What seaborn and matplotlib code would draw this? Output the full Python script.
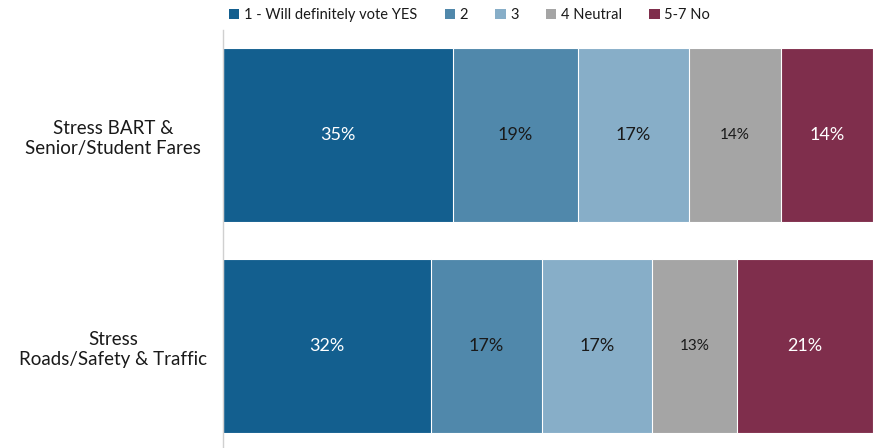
import matplotlib
matplotlib.use("Agg")
import matplotlib.pyplot as plt
import seaborn as sns
import pandas as pd
import numpy as np
from matplotlib.patches import Patch

categories = ["Stress BART &\nSenior/Student Fares", "Stress\nRoads/Safety & Traffic"]
series_names = ["1 - Will definitely vote YES", "2", "3", "4 Neutral", "5-7 No"]
vote_yes = [35, 32]
level_2 = [19, 17]
level_3 = [17, 17]
neutral = [14, 13]
no_votes = [14, 21]

colors = ["#135F8F", "#5088AB", "#87AEC8", "#A5A5A5", "#7F2E4C"]
label_colors = ["white", "#1a1a1a", "#1a1a1a", "#1a1a1a", "white"]
label_sizes = [13, 13, 13, 11, 13]

sns.set_theme(style="white")
plt.rcParams["font.family"] = ["Lato", "DejaVu Sans"]

series = [vote_yes, level_2, level_3, neutral, no_votes]
vals = np.array(series, dtype=float)  # shape (5, 2)
totals = vals.sum(axis=0)
shares = vals / totals * 100
cum = np.cumsum(shares, axis=0)

fig = plt.figure(figsize=(8.73, 4.48), dpi=100)
ax = fig.add_axes([223 / 873, 0, 650 / 873, 418 / 448])

for i in range(len(series) - 1, -1, -1):
    df = pd.DataFrame({"cat": categories, "val": cum[i]})
    sns.barplot(data=df, x="val", y="cat", orient="h", color=colors[i],
                saturation=1, width=0.825, edgecolor="white", linewidth=0.8,
                ax=ax)

for i in range(len(series)):
    for j in range(len(categories)):
        start = cum[i][j] - shares[i][j]
        ax.text(start + shares[i][j] / 2, j, f"{int(series[i][j])}%",
                ha="center", va="center", color=label_colors[i],
                fontsize=label_sizes[i])

ax.set_xlim(0, 100)
ax.set_ylim(1.483, -0.498)
ax.set_xlabel("")
ax.set_ylabel("")
ax.set_xticks([])
ax.tick_params(axis="y", length=0, pad=79, labelsize=13.5, labelcolor="#1a1a1a")
for lab in ax.get_yticklabels():
    lab.set_horizontalalignment("center")
    lab.set_linespacing(1.25)
for s in ["top", "right", "bottom"]:
    ax.spines[s].set_visible(False)
ax.spines["left"].set_color("#D0D0D0")
ax.spines["left"].set_linewidth(1)
if ax.get_legend() is not None:
    ax.get_legend().remove()

handles = [Patch(facecolor=c, edgecolor="none") for c in colors]
leg = fig.legend(handles, series_names, loc="upper left", ncol=5,
                 bbox_to_anchor=(221 / 873, 1.0), frameon=False,
                 fontsize=10.5, handlelength=0.7, handleheight=0.7,
                 handletextpad=0.3, columnspacing=1.9, borderaxespad=0.15)
for t in leg.get_texts():
    t.set_color("#1a1a1a")

fig.savefig("out.png", dpi=100)
